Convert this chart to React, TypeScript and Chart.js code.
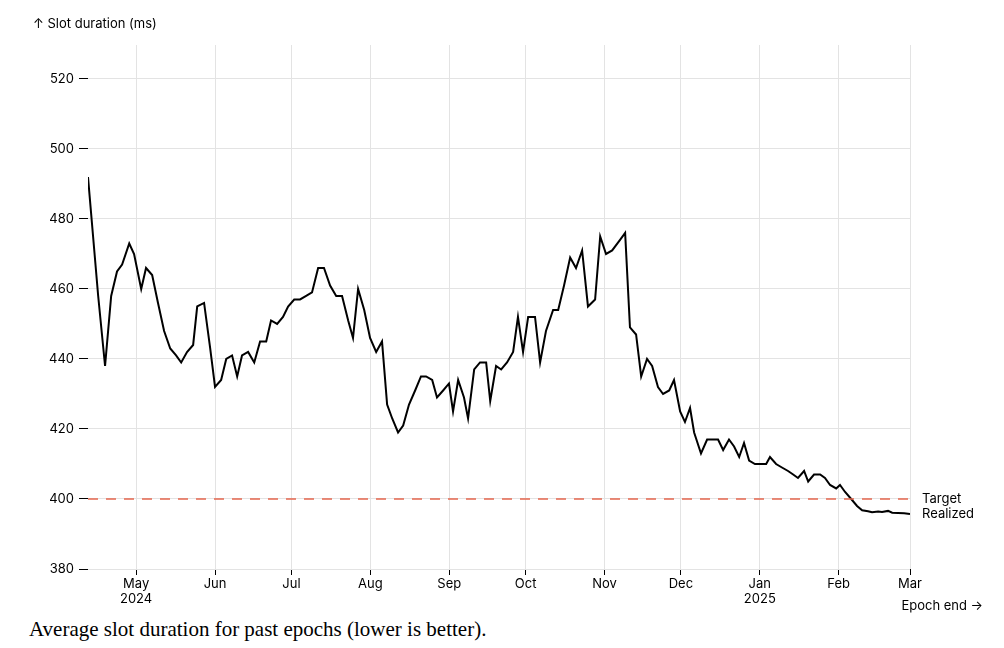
import React, { useEffect, useRef } from "react";
import { Chart, registerables } from "chart.js";
Chart.register(...registerables);

// days since 2024-05-01 (epoch end)
const epochDays = [-18.9,-14.9,-12.2,-9.8,-7.5,-5.5,-2.7,-0.8,2.0,3.9,6.3,8.6,11.0,13.4,15.7,17.7,20.0,22.4,24.0,26.7,29.1,31.0,33.4,35.4,37.7,39.7,41.6,44.0,46.4,48.7,51.1,53.0,55.4,57.7,59.7,62.1,64.4,66.8,69.1,71.5,73.8,76.2,78.6,80.9,83.3,85.2,87.2,89.6,91.9,94.3,96.6,98.6,100.6,102.9,104.9,107.2,109.6,111.9,113.9,116.3,118.2,120.6,122.9,124.5,126.5,128.8,130.4,132.8,135.1,137.5,139.1,141.4,143.4,145.7,148.1,150.0,152.0,154.0,156.7,158.7,161.0,163.8,165.8,168.1,170.5,172.8,175.2,177.5,180.3,182.3,184.6,187.0,190.1,192.1,194.0,196.4,198.4,200.7,202.7,205.0,207.0,209.4,211.3,213.7,215.6,217.6,219.2,221.9,224.3,226.6,228.6,230.6,232.9,234.9,236.9,238.8,240.8,243.1,245.5,247.5,249.0,251.4,253.7,256.1,258.1,260.0,262.4,264.0,266.3,268.7,270.6,272.6,275.0,276.5,278.5,280.9,283.2,285.2,287.5,289.1,291.5,293.0,295.4,297.0,299.3,301.7,304.0];
const slotMs = [492,458,438,458,465,467,473,470,460,466,464,456,448,443,441,439,442,444,455,456,443,432,434,440,441,435,441,442,439,445,445,451,450,452,455,457,457,458,459,466,466,461,458,458,451,446,460,454,446,442,445,427,423,419,421,427,431,435,435,434,429,431,433,425,434,429,423,437,439,439,428,438,437,439,442,452,442,452,452,439,448,454,454,461,469,466,471,455,457,475,470,471,474,476,449,447,435,440,438,432,430,431,434,425,422,426,419,413,417,417,417,414,417,415,412,416,411,410,410,410,412,410,409,408,407,406,408,405,407,407,406,404,403,404,402,400,398,396.8,396.5,396.2,396.4,396.3,396.6,396.1,396,395.9,395.7];
const targetMs = 400;
const monthTicks = [0,31,61,92,123,153,184,214,245,276,304];
const monthLabels: (string|string[])[] = [["May","2024"],"Jun","Jul","Aug","Sep","Oct","Nov","Dec",["Jan","2025"],"Feb","Mar"];
const yTicks = [380,400,420,440,460,480,500,520];

const FONT = "Inter, 'Liberation Sans', sans-serif";

export default function App() {
  const ref = useRef<HTMLCanvasElement>(null);
  useEffect(() => {
    const labelsPlugin = {
      id: "labels",
      afterDraw(chart: any) {
        const { ctx, scales } = chart;
        const x = scales.x, y = scales.y;
        ctx.save();
        ctx.fillStyle = "#000";
        ctx.font = `13px ${FONT}`;
        ctx.textBaseline = "middle";
        ctx.textAlign = "left";
        ctx.fillText("Target", x.right + 12, y.getPixelForValue(targetMs));
        ctx.fillText("Realized", x.right + 12, y.getPixelForValue(targetMs) + 15);
        ctx.fillText("↑ Slot duration (ms)", 33, 24);
        ctx.textAlign = "right";
        ctx.fillText("Epoch end →", 983, y.bottom + 37);
        ctx.restore();
      },
    };
    const chart = new Chart(ref.current!, {
      type: "line",
      data: {
        datasets: [
          {
            data: [{ x: epochDays[0], y: targetMs }, { x: epochDays[epochDays.length - 1], y: targetMs }],
            borderColor: "#e5674f",
            borderWidth: 1.5,
            borderDash: [10, 8],
            pointRadius: 0,
          },
          {
            data: epochDays.map((d, i) => ({ x: d, y: slotMs[i] })),
            borderColor: "#000",
            borderWidth: 2,
            pointRadius: 0,
          },
        ],
      },
      options: {
        animation: false,
        responsive: false,
        layout: { padding: { left: 0, right: 94, top: 45, bottom: 0 } },
        plugins: { legend: { display: false }, tooltip: { enabled: false } },
        scales: {
          x: {
            type: "linear",
            min: epochDays[0],
            max: 304,
            afterBuildTicks: (s: any) => { s.ticks = monthTicks.map((v) => ({ value: v })); },
            afterFit: (s: any) => { s.height = 46; },
            border: { display: false },
            grid: { color: "#e3e3e3", tickLength: 6, tickColor: "#000" },
            ticks: {
              color: "#000",
              font: { family: FONT, size: 13 },
              padding: 1,
              maxRotation: 0,
              autoSkip: false,
              callback: (v: any) => { const i = monthTicks.indexOf(v); return i >= 0 ? monthLabels[i] : ""; },
            },
          },
          y: {
            min: 380,
            max: 529.7,
            afterBuildTicks: (s: any) => { s.ticks = yTicks.map((v) => ({ value: v })); },
            afterFit: (s: any) => { s.width = 88; },
            border: { display: false },
            grid: { color: "#e3e3e3", tickLength: 9, tickColor: "#000" },
            ticks: { color: "#000", font: { family: FONT, size: 13 }, padding: 5 },
          },
        },
      },
      plugins: [labelsPlugin],
    } as any);
    return () => chart.destroy();
  }, []);
  return (
    <div style={{ position: "absolute", left: 0, top: 0, width: 1004, height: 648, background: "#fff" }}>
      <canvas ref={ref} width={1004} height={615} style={{ display: "block" }} />
      <div style={{ position: "absolute", left: 29, top: 617, fontFamily: "'Liberation Serif', 'DejaVu Serif', serif", fontSize: 21 }}>
        Average slot duration for past epochs (lower is better).
      </div>
    </div>
  );
}
